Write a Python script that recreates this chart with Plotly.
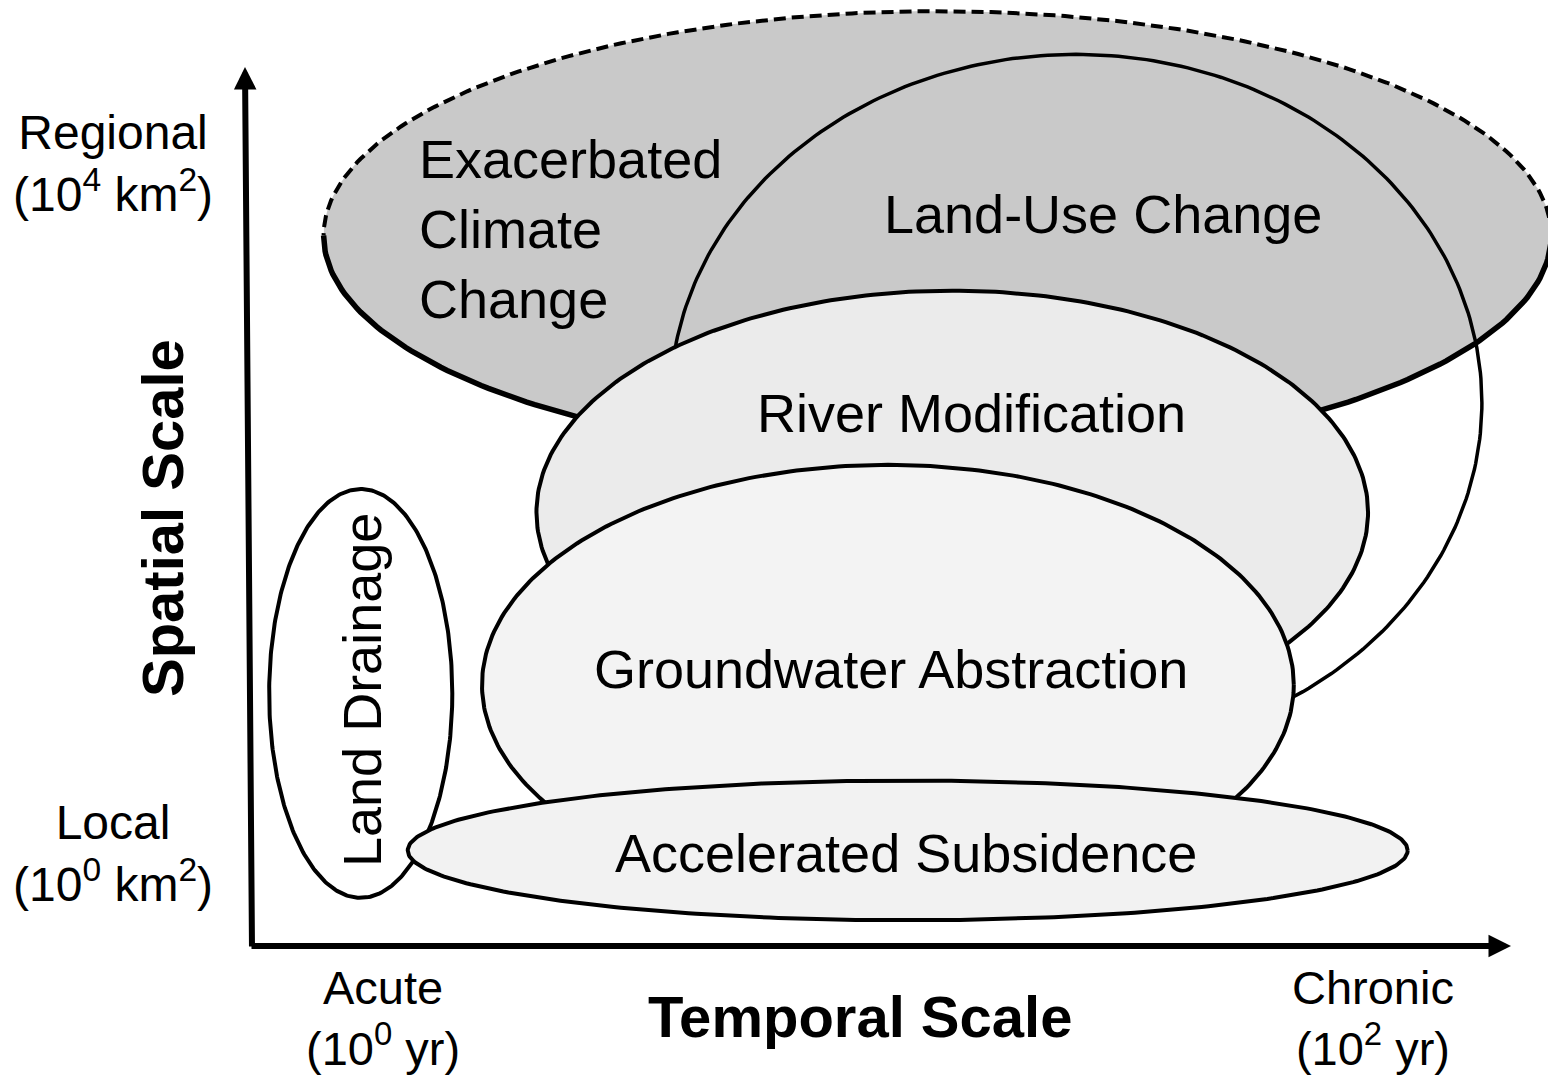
import numpy as np
import plotly.graph_objects as go

W, H = 1556, 1076
OFF = 8  # default page margin of the html body

# drivers of subsidence: extent in log10 time (yr) and log10 area (km2)
drivers = ["Exacerbated Climate Change", "Land-Use Change", "River Modification",
           "Groundwater Abstraction", "Land Drainage", "Accelerated Subsidence"]
t_min = [-0.12, 0.58, 0.31, 0.20, -0.23, 0.05]
t_max = [2.36, 2.22, 1.99, 1.84, 0.14, 2.07]
s_min = [2.28, 0.59, 0.69, -0.30, -0.26, -0.39]
s_max = [4.88, 4.63, 3.26, 2.25, 2.11, 0.42]

x_tickvals = [0, 2]
x_ticktext = ["Acute<br>(10<sup>0</sup> yr)", "Chronic<br>(10<sup>2</sup> yr)"]
y_tickvals = [0, 4]
y_ticktext = ["Local<br>(10<sup>0</sup> km<sup>2</sup>)", "Regional<br>(10<sup>4</sup> km<sup>2</sup>)"]

# pixel placement of the scale
T0, TS = 383, 495
S0, SS = 853, 172.5

FONT = "Liberation Sans, Arial, Helvetica, sans-serif"
fills = {
    "Exacerbated Climate Change": "#c9c9c9",
    "Land-Use Change": None,
    "River Modification": "#ebebeb",
    "Groundwater Abstraction": "#f3f3f3",
    "Land Drainage": "#ffffff",
    "Accelerated Subsidence": "#f2f2f2",
}

FW, FH = W - OFF, H - OFF


def P(x, y):
    return (x - OFF) / FW, 1 - (y - OFF) / FH


def ellipse(i, a0=0.0, a1=2 * np.pi, n=361):
    cx, cy = (t_min[i] + t_max[i]) / 2, (s_min[i] + s_max[i]) / 2
    rx, ry = (t_max[i] - t_min[i]) / 2, (s_max[i] - s_min[i]) / 2
    th = np.linspace(a0, a1, n)
    return cx + rx * np.cos(th), cy + ry * np.sin(th)


fig = go.Figure()

for i, name in enumerate(drivers):
    if name == "Exacerbated Climate Change":
        x, y = ellipse(i)
        fig.add_trace(go.Scatter(x=x, y=y, mode="lines", fill="toself",
                                 fillcolor=fills[name], line=dict(width=0),
                                 hoverinfo="skip", showlegend=False))
        x, y = ellipse(i, 0, np.pi, 181)
        fig.add_trace(go.Scatter(x=x, y=y, mode="lines",
                                 line=dict(color="black", width=4, dash="12px,6px"),
                                 hoverinfo="skip", showlegend=False))
        x, y = ellipse(i, np.pi, 2 * np.pi, 181)
        fig.add_trace(go.Scatter(x=x, y=y, mode="lines",
                                 line=dict(color="black", width=5.5),
                                 hoverinfo="skip", showlegend=False))
    elif fills[name] is None:
        x, y = ellipse(i)
        fig.add_trace(go.Scatter(x=x, y=y, mode="lines",
                                 line=dict(color="black", width=3.5),
                                 hoverinfo="skip", showlegend=False))
    else:
        x, y = ellipse(i)
        fig.add_trace(go.Scatter(x=x, y=y, mode="lines", fill="toself",
                                 fillcolor=fills[name],
                                 line=dict(color="black", width=4),
                                 hoverinfo="skip", showlegend=False))

ann = []


def label(text, px, py, size=54, bold=False, angle=0, **kw):
    x, y = P(px, py)
    if bold:
        text = f"<b>{text}</b>"
    d = dict(text=text, x=x, y=y, xref="paper", yref="paper", showarrow=False,
             font=dict(family=FONT, size=size, color="black"), textangle=angle,
             xanchor="center", yanchor="middle")
    d.update(kw)
    ann.append(d)


label("Exacerbated<br>Climate<br>Change", 417, 229, xanchor="left", align="left")
label("Land-Use Change", 1103, 214)
label("River Modification", 972, 413)
label("Groundwater Abstraction", 891, 669)
label("Accelerated Subsidence", 906, 853)
label("Land Drainage", 362, 690, angle=-90)
label("Spatial Scale", 163, 518, size=58, bold=True, angle=-90)
label("Temporal Scale", 860, 1016, size=58, bold=True)

for tv, tt in zip(x_tickvals, x_ticktext):
    ann.append(dict(text=tt, x=tv, y=P(0, 1018)[1], xref="x", yref="paper",
                    showarrow=False, font=dict(family=FONT, size=47, color="black"),
                    xanchor="center", yanchor="middle"))
for tv, tt in zip(y_tickvals, y_ticktext):
    ann.append(dict(text=tt, x=P(113, 0)[0], y=tv, xref="paper", yref="y",
                    showarrow=False, font=dict(family=FONT, size=48, color="black"),
                    xanchor="center", yanchor="middle"))

# axis arrows
hx, hy = P(245, 67)
ann.append(dict(x=hx, y=hy, xref="paper", yref="paper", ax=7, ay=881,
                axref="pixel", ayref="pixel", text="", showarrow=True,
                arrowhead=2, arrowwidth=6, arrowsize=0.75, arrowcolor="black"))
hx, hy = P(1511, 946)
ann.append(dict(x=hx, y=hy, xref="paper", yref="paper", ax=-1261, ay=0,
                axref="pixel", ayref="pixel", text="", showarrow=True,
                arrowhead=2, arrowwidth=6, arrowsize=0.75, arrowcolor="black"))

fig.update_layout(
    width=FW, height=FH,
    margin=dict(l=0, r=0, t=0, b=0),
    paper_bgcolor="white", plot_bgcolor="white",
    xaxis=dict(range=[(OFF - T0) / TS, (W - T0) / TS], visible=False, fixedrange=True),
    yaxis=dict(range=[(S0 - H) / SS, (S0 - OFF) / SS], visible=False, fixedrange=True),
    annotations=ann,
    showlegend=False,
)

fig.write_html("out.html")
